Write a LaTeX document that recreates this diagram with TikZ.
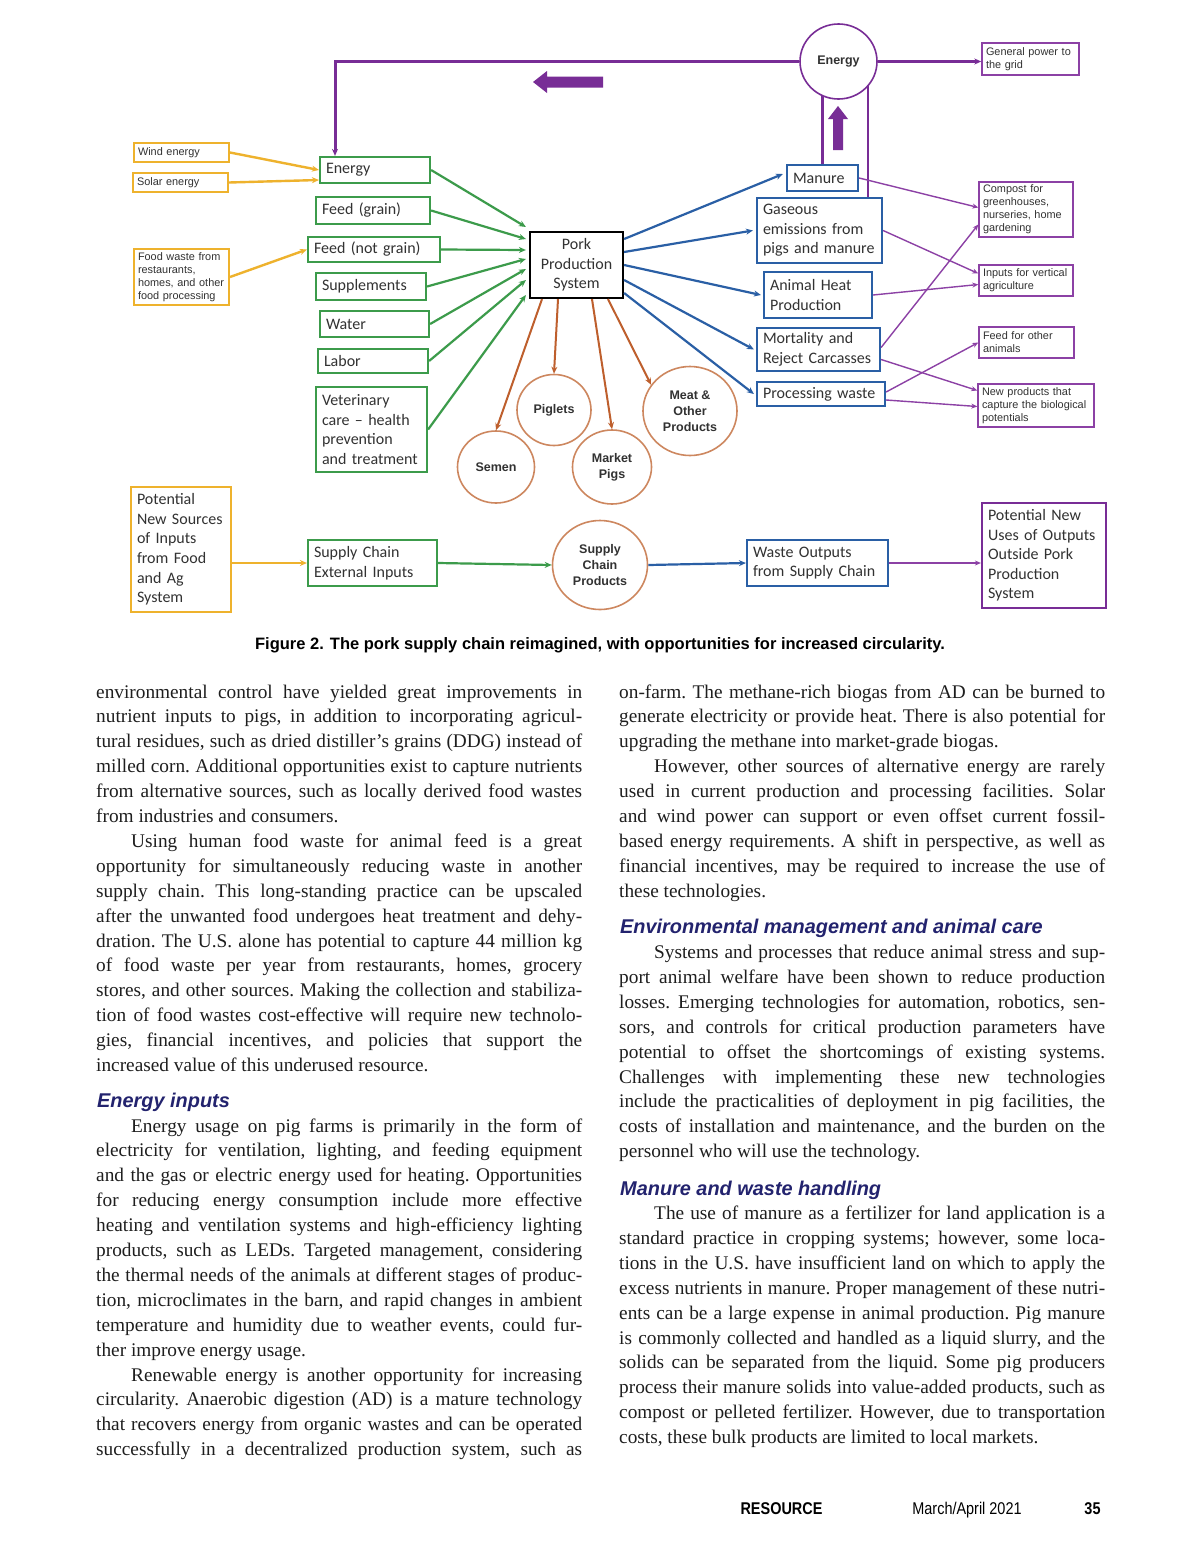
\documentclass[tikz,border=0pt]{standalone}
\usepackage{fontspec}
\setmainfont{Liberation Serif}
\newfontfamily\carl{Carlito}
\newfontfamily\arl{Liberation Sans}
\newfontfamily\arlnar[FakeStretch=0.85]{Liberation Sans}
\usetikzlibrary{shapes.geometric,arrows.meta,calc}

\definecolor{gold}{RGB}{238,178,45}
\definecolor{grn}{RGB}{60,155,75}
\definecolor{blu}{RGB}{42,95,165}
\definecolor{ppl}{RGB}{120,45,150}
\definecolor{pplthin}{RGB}{140,65,165}
\definecolor{brn}{RGB}{190,95,45}
\definecolor{circ}{RGB}{205,135,95}
\definecolor{txt}{RGB}{50,50,50}
\definecolor{navy}{RGB}{35,35,110}
\definecolor{bodytxt}{RGB}{30,30,30}

\newcommand{\bodyfont}{\fontsize{19.3}{24.9}\selectfont}
\newcommand{\colsetup}{\bodyfont\frenchspacing\setlength{\parindent}{35pt}\setlength{\parskip}{0pt}\tolerance=10000 \pretolerance=-1 \hyphenpenalty=10000 \exhyphenpenalty=10000 \hbadness=10000 \hfuzz=30pt }

\tikzset{
  every node/.style={text=txt},
  lab/.style={font={\fontsize{16}{19.6}\selectfont\carl}, inner xsep=6pt, inner ysep=0pt, align=left, line width=2.2pt},
  sml/.style={font={\fontsize{10.9}{13}\selectfont\arl}, inner xsep=4pt, inner ysep=0pt, align=left},
  ybox/.style={draw=gold, line width=2pt},
  gbox/.style={lab, draw=grn},
  bbox/.style={lab, draw=blu},
  pbox/.style={sml, draw=pplthin, line width=1.4pt},
  cir/.style={ellipse, draw=circ, line width=1.6pt, inner sep=0pt, align=center, font={\fontsize{12.5}{16}\selectfont\arl\bfseries}, text=txt},
  tipx/.style={-{Stealth[length=7pt,width=6pt]}},
  ya/.style={draw=gold, line width=2.4pt, tipx},
  ga/.style={draw=grn, line width=2.2pt, tipx},
  ba/.style={draw=blu, line width=2.2pt, tipx},
  bra/.style={draw=brn, line width=2pt, tipx},
  pa/.style={draw=pplthin, line width=1.4pt, -{Stealth[length=6pt,width=5pt]}},
  pthick/.style={draw=ppl, line width=3pt},
  bodynode/.style={anchor=base west, inner sep=0pt, text=bodytxt},
  headnode/.style={anchor=base west, inner sep=0pt, font={\fontsize{19.9}{22}\selectfont\arl\bfseries\itshape}, text=navy},
}

\begin{document}
\begin{tikzpicture}[x=1pt,y=-1pt]
\useasboundingbox (0,0) rectangle (1200,1558);
\fill[white] (0,0) rectangle (1200,1558);

% ---------- yellow sources
\node[sml, ybox, text width=87pt, minimum height=19pt] (wind) at (181.5,152.5) {Wind energy};
\node[sml, ybox, text width=87pt, minimum height=19pt] (solar) at (180.5,182.5) {Solar energy};
\node[sml, ybox, text width=87pt, minimum height=56pt] (foodw) at (181.5,277) {Food waste from\\restaurants,\\homes, and other\\food processing};
\node[lab, ybox, text width=88pt, minimum height=125pt] (potsrc) at (181,549.5) {Potential\\New Sources\\of Inputs\\from Food\\and Ag\\System};

% ---------- green inputs
\node[gbox, text width=98pt, minimum height=26pt] (genergy) at (375,170) {Energy};
\node[gbox, text width=102pt, minimum height=27pt] (feedg) at (373,210.5) {Feed (grain)};
\node[gbox, text width=120pt, minimum height=25pt] (feedng) at (374,249.5) {Feed (not grain)};
\node[gbox, text width=98pt, minimum height=27pt] (supp) at (371,286.5) {Supplements};
\node[gbox, text width=97pt, minimum height=26pt] (water) at (374.5,324) {Water};
\node[gbox, text width=98pt, minimum height=24pt] (labor) at (373,361) {Labor};
\node[gbox, text width=99pt, minimum height=85pt] (vet) at (371.5,429.5) {Veterinary\\care – health\\prevention\\and treatment};
\node[gbox, text width=117pt, minimum height=46pt] (scext) at (372.5,563) {Supply Chain\\External Inputs};

% ---------- centre
\node[lab, draw=black, align=center, text width=81pt, minimum height=66pt] (pork) at (576.5,265) {Pork\\Production\\System};

% ---------- blue outputs
\node[bbox, text width=59pt, minimum height=26pt] (manure) at (822.5,178) {Manure};
\node[bbox, text width=113pt, minimum height=65pt] (gas) at (819.5,230.5) {Gaseous\\emissions from\\pigs and manure};
\node[bbox, text width=96pt, minimum height=46pt] (heat) at (818,295) {Animal Heat\\Production};
\node[bbox, text width=111pt, minimum height=43pt] (mort) at (818.5,349.5) {Mortality and\\Reject Carcasses};
\node[bbox, text width=116pt, minimum height=24pt] (proc) at (821,394) {Processing waste};
\node[bbox, text width=129pt, minimum height=46pt] (wasteout) at (817.5,563) {Waste Outputs\\from Supply Chain};

% ---------- purple uses
\node[pbox, text width=89pt, minimum height=32pt] (grid) at (1030.5,59) {General power to\\the grid};
\node[pbox, text width=86pt, minimum height=55pt] (compost) at (1026,209.5) {Compost for\\greenhouses,\\nurseries, home\\gardening};
\node[pbox, text width=86pt, minimum height=31pt] (vert) at (1026,280.5) {Inputs for vertical\\agriculture};
\node[pbox, text width=87pt, minimum height=31pt] (feedoth) at (1026.5,342.5) {Feed for other\\animals};
\node[pbox, text width=108pt, minimum height=43pt] (newprod) at (1036,405.5) {New products that\\capture the biological\\potentials};
\node[lab, draw=ppl, text width=112pt, minimum height=105pt] (potnew) at (1044,555.5) {Potential New\\Uses of Outputs\\Outside Pork\\Production\\System};

% ---------- circles
\node[cir, draw=ppl, minimum width=77pt, minimum height=75pt] (ecirc) at (838.5,61.5) {Energy};
\node[cir, minimum width=74pt, minimum height=71pt] (piglets) at (554,410) {Piglets};
\node[cir, minimum width=77pt, minimum height=72pt] (semen) at (496,467) {Semen};
\node[cir, minimum width=79pt, minimum height=74pt] (market) at (612,467) {Market\\Pigs};
\node[cir, minimum width=94pt, minimum height=89pt] (meat) at (690,411) {Meat \&\\Other\\Products};
\node[cir, minimum width=95pt, minimum height=89pt] (scprod) at (600,565) {Supply\\Chain\\Products};

% ---------- yellow arrows
\draw[ya] (wind.east) -- (genergy.west);
\draw[ya] (solar.east) -- ([yshift=-10pt]genergy.west);
\draw[ya] (foodw.east) -- (feedng.west);
\draw[ya] (potsrc.east |- scext.west) -- (scext.west);

% ---------- green arrows
\draw[ga] (genergy.east) -- ([xshift=-3pt,yshift=38pt]pork.west);
\draw[ga] (feedg.east) -- ([xshift=-3pt,yshift=26pt]pork.west);
\draw[ga] (feedng.east) -- ([xshift=-3pt,yshift=15pt]pork.west);
\draw[ga] (supp.east) -- ([xshift=-3pt,yshift=6pt]pork.west);
\draw[ga] (water.east) -- ([xshift=-3pt,yshift=-4pt]pork.west);
\draw[ga] (labor.east) -- ([xshift=-3pt,yshift=-15pt]pork.west);
\draw[ga] (vet.east) -- ([xshift=-3pt,yshift=-30pt]pork.west);
\draw[ga] (scext.east) -- (scprod.west);

% ---------- blue arrows
\draw[ba] ([yshift=26pt]pork.east) -- ([xshift=-3pt,yshift=4pt]manure.west);
\draw[ba] ([yshift=13pt]pork.east) -- ([xshift=-3pt]gas.west);
\draw[ba] (pork.east) -- ([xshift=-2pt]heat.west);
\draw[ba] ([yshift=-15pt]pork.east) -- ([xshift=-2pt]mort.west);
\draw[ba] ([yshift=-28pt]pork.east) -- ([xshift=-2pt]proc.west);
\draw[ba] (scprod.east) -- (wasteout.west);

% ---------- brown arrows
\draw[bra] ([xshift=-34.5pt]pork.south) -- (semen.north);
\draw[bra] ([xshift=-18.5pt]pork.south) -- (piglets.north);
\draw[bra] ([xshift=15.5pt]pork.south) -- (market.north);
\draw[bra] ([xshift=31.5pt]pork.south) -- (meat.146);

% ---------- purple energy loop
\draw[pthick, tipx] (ecirc.west) -| ([xshift=-40pt]genergy.north);
\draw[pthick, tipx] (ecirc.east) -- (ecirc.east -| grid.west);
\draw[pthick, line width=2.4pt] (manure.north) -- (manure.north |- ecirc.-115);
\draw[pthick, line width=2.4pt] (gas.north -| ecirc.-40) -- (ecirc.-40);
\fill[ppl] (533,82) -- (547,71) -- (547,76.5) -- (603,76.5) -- (603,87.5) -- (547,87.5) -- (547,93) -- cycle;
\fill[ppl] (838,106) -- (848,119) -- (843,119) -- (843,150) -- (833,150) -- (833,119) -- (828,119) -- cycle;

% ---------- purple thin arrows
\draw[pa] (manure.east) -- ([yshift=2pt]compost.west);
\draw[pa] (gas.east) -- ([yshift=7pt]vert.west);
\draw[pa] (heat.east) -- ([yshift=-4pt]vert.west);
\draw[pa] ([yshift=2pt]mort.east) -- ([yshift=-15pt]compost.west);
\draw[pa] ([yshift=-10pt]mort.east) -- ([yshift=15pt]newprod.west);
\draw[pa] ([yshift=2pt]proc.east) -- (feedoth.west);
\draw[pa] ([yshift=-6pt]proc.east) -- ([yshift=-1pt]newprod.west);
\draw[pa] (wasteout.east) -- (wasteout.east -| potnew.west);

% ---------- caption
\node[anchor=base, font={\fontsize{16.5}{18}\selectfont\arl\bfseries}, text=black] (cap) at (600,649.5) {Figure 2. The pork supply chain reimagined, with opportunities for increased circularity.};

% ---------- body text, left column
\node[bodynode] (la) at (96,698) {\parbox[t]{486pt}{\colsetup\noindent environmental control have yielded great improvements in\linebreak
nutrient inputs to pigs, in addition to incorporating agricul-\linebreak
tural residues, such as dried distiller’s grains (DDG) instead of\linebreak
milled corn. Additional opportunities exist to capture nutrients\linebreak
from alternative sources, such as locally derived food wastes\linebreak
from industries and consumers.\par
Using human food waste for animal feed is a great\linebreak
opportunity for simultaneously reducing waste in another\linebreak
supply chain. This long-standing practice can be upscaled\linebreak
after the unwanted food undergoes heat treatment and dehy-\linebreak
dration. The U.S. alone has potential to capture 44 million kg\linebreak
of food waste per year from restaurants, homes, grocery\linebreak
stores, and other sources. Making the collection and stabiliza-\linebreak
tion of food wastes cost-effective will require new technolo-\linebreak
gies, financial incentives, and policies that support the\linebreak
increased value of this underused resource.}};

\node[headnode] (h1) at (97,1107) {Energy inputs};

\node[bodynode] (lb) at (96,1132) {\parbox[t]{486pt}{\colsetup Energy usage on pig farms is primarily in the form of\linebreak
electricity for ventilation, lighting, and feeding equipment\linebreak
and the gas or electric energy used for heating. Opportunities\linebreak
for reducing energy consumption include more effective\linebreak
heating and ventilation systems and high-efficiency lighting\linebreak
products, such as LEDs. Targeted management, considering\linebreak
the thermal needs of the animals at different stages of produc-\linebreak
tion, microclimates in the barn, and rapid changes in ambient\linebreak
temperature and humidity due to weather events, could fur-\linebreak
ther improve energy usage.\par
Renewable energy is another opportunity for increasing\linebreak
circularity. Anaerobic digestion (AD) is a mature technology\linebreak
that recovers energy from organic wastes and can be operated\linebreak
successfully in a decentralized production system, such as\parfillskip=0pt\par}};

% ---------- body text, right column
\node[bodynode] (ra) at (619,698) {\parbox[t]{486pt}{\colsetup\noindent on-farm. The methane-rich biogas from AD can be burned to\linebreak
generate electricity or provide heat. There is also potential for\linebreak
upgrading the methane into market-grade biogas.\par
However, other sources of alternative energy are rarely\linebreak
used in current production and processing facilities. Solar\linebreak
and wind power can support or even offset current fossil-\linebreak
based energy requirements. A shift in perspective, as well as\linebreak
financial incentives, may be required to increase the use of\linebreak
these technologies.}};

\node[headnode] (h2) at (620,933) {Environmental management and animal care};

\node[bodynode] (rb) at (619,958.5) {\parbox[t]{486pt}{\colsetup Systems and processes that reduce animal stress and sup-\linebreak
port animal welfare have been shown to reduce production\linebreak
losses. Emerging technologies for automation, robotics, sen-\linebreak
sors, and controls for critical production parameters have\linebreak
potential to offset the shortcomings of existing systems.\linebreak
Challenges with implementing these new technologies\linebreak
include the practicalities of deployment in pig facilities, the\linebreak
costs of installation and maintenance, and the burden on the\linebreak
personnel who will use the technology.}};

\node[headnode] (h3) at (620,1195) {Manure and waste handling};

\node[bodynode] (rc) at (619,1219.5) {\parbox[t]{486pt}{\colsetup The use of manure as a fertilizer for land application is a\linebreak
standard practice in cropping systems; however, some loca-\linebreak
tions in the U.S. have insufficient land on which to apply the\linebreak
excess nutrients in manure. Proper management of these nutri-\linebreak
ents can be a large expense in animal production. Pig manure\linebreak
is commonly collected and handled as a liquid slurry, and the\linebreak
solids can be separated from the liquid. Some pig producers\linebreak
process their manure solids into value-added products, such as\linebreak
compost or pelleted fertilizer. However, due to transportation\linebreak
costs, these bulk products are limited to local markets.}};

% ---------- footer
\node[anchor=base, inner sep=0pt, font={\fontsize{17}{20}\selectfont\arlnar\bfseries}, text=black] (fres) at (781.5,1514) {RESOURCE};
\node[anchor=base, inner sep=0pt, font={\fontsize{17}{20}\selectfont\arlnar}, text=black] (fdate) at (967,1514) {March/April 2021};
\node[anchor=base, inner sep=0pt, font={\fontsize{17}{20}\selectfont\arlnar\bfseries}, text=black] (fpage) at (1092.5,1514) {35};
\end{tikzpicture}
\end{document}
